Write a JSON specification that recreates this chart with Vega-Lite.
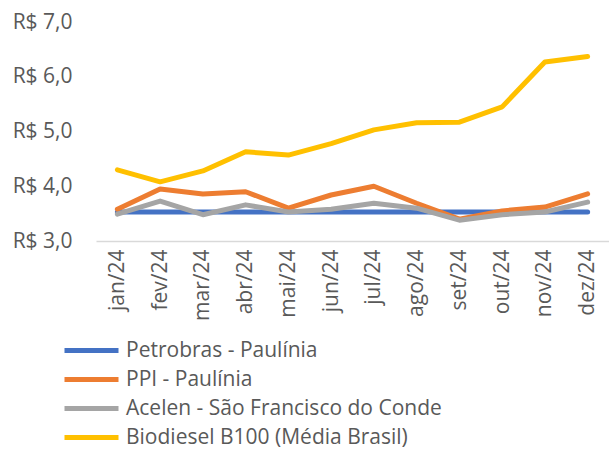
{
  "$schema": "https://vega.github.io/schema/vega-lite/v6.json",
  "autosize": {"type": "none"},
  "padding": {"left": 96, "top": 22, "right": 0, "bottom": 209},
  "width": 513,
  "height": 219,
  "background": "white",
  "config": {
    "view": {"stroke": null},
    "font": "Open Sans"
  },
  "data": {
    "values": [
      {"mes": "jan/24", "serie": "Petrobras - Paulínia", "valor": 3.53},
      {"mes": "fev/24", "serie": "Petrobras - Paulínia", "valor": 3.53},
      {"mes": "mar/24", "serie": "Petrobras - Paulínia", "valor": 3.53},
      {"mes": "abr/24", "serie": "Petrobras - Paulínia", "valor": 3.53},
      {"mes": "mai/24", "serie": "Petrobras - Paulínia", "valor": 3.53},
      {"mes": "jun/24", "serie": "Petrobras - Paulínia", "valor": 3.53},
      {"mes": "jul/24", "serie": "Petrobras - Paulínia", "valor": 3.53},
      {"mes": "ago/24", "serie": "Petrobras - Paulínia", "valor": 3.53},
      {"mes": "set/24", "serie": "Petrobras - Paulínia", "valor": 3.53},
      {"mes": "out/24", "serie": "Petrobras - Paulínia", "valor": 3.53},
      {"mes": "nov/24", "serie": "Petrobras - Paulínia", "valor": 3.53},
      {"mes": "dez/24", "serie": "Petrobras - Paulínia", "valor": 3.53},
      {"mes": "jan/24", "serie": "PPI - Paulínia", "valor": 3.58},
      {"mes": "fev/24", "serie": "PPI - Paulínia", "valor": 3.95},
      {"mes": "mar/24", "serie": "PPI - Paulínia", "valor": 3.86},
      {"mes": "abr/24", "serie": "PPI - Paulínia", "valor": 3.90},
      {"mes": "mai/24", "serie": "PPI - Paulínia", "valor": 3.60},
      {"mes": "jun/24", "serie": "PPI - Paulínia", "valor": 3.84},
      {"mes": "jul/24", "serie": "PPI - Paulínia", "valor": 4.00},
      {"mes": "ago/24", "serie": "PPI - Paulínia", "valor": 3.69},
      {"mes": "set/24", "serie": "PPI - Paulínia", "valor": 3.40},
      {"mes": "out/24", "serie": "PPI - Paulínia", "valor": 3.55},
      {"mes": "nov/24", "serie": "PPI - Paulínia", "valor": 3.62},
      {"mes": "dez/24", "serie": "PPI - Paulínia", "valor": 3.86},
      {"mes": "jan/24", "serie": "Acelen - São Francisco do Conde", "valor": 3.49},
      {"mes": "fev/24", "serie": "Acelen - São Francisco do Conde", "valor": 3.73},
      {"mes": "mar/24", "serie": "Acelen - São Francisco do Conde", "valor": 3.48},
      {"mes": "abr/24", "serie": "Acelen - São Francisco do Conde", "valor": 3.66},
      {"mes": "mai/24", "serie": "Acelen - São Francisco do Conde", "valor": 3.53},
      {"mes": "jun/24", "serie": "Acelen - São Francisco do Conde", "valor": 3.58},
      {"mes": "jul/24", "serie": "Acelen - São Francisco do Conde", "valor": 3.69},
      {"mes": "ago/24", "serie": "Acelen - São Francisco do Conde", "valor": 3.60},
      {"mes": "set/24", "serie": "Acelen - São Francisco do Conde", "valor": 3.38},
      {"mes": "out/24", "serie": "Acelen - São Francisco do Conde", "valor": 3.48},
      {"mes": "nov/24", "serie": "Acelen - São Francisco do Conde", "valor": 3.53},
      {"mes": "dez/24", "serie": "Acelen - São Francisco do Conde", "valor": 3.71},
      {"mes": "jan/24", "serie": "Biodiesel B100 (Média Brasil)", "valor": 4.30},
      {"mes": "fev/24", "serie": "Biodiesel B100 (Média Brasil)", "valor": 4.08},
      {"mes": "mar/24", "serie": "Biodiesel B100 (Média Brasil)", "valor": 4.28},
      {"mes": "abr/24", "serie": "Biodiesel B100 (Média Brasil)", "valor": 4.63},
      {"mes": "mai/24", "serie": "Biodiesel B100 (Média Brasil)", "valor": 4.57},
      {"mes": "jun/24", "serie": "Biodiesel B100 (Média Brasil)", "valor": 4.78},
      {"mes": "jul/24", "serie": "Biodiesel B100 (Média Brasil)", "valor": 5.03},
      {"mes": "ago/24", "serie": "Biodiesel B100 (Média Brasil)", "valor": 5.16},
      {"mes": "set/24", "serie": "Biodiesel B100 (Média Brasil)", "valor": 5.17},
      {"mes": "out/24", "serie": "Biodiesel B100 (Média Brasil)", "valor": 5.45},
      {"mes": "nov/24", "serie": "Biodiesel B100 (Média Brasil)", "valor": 6.27},
      {"mes": "dez/24", "serie": "Biodiesel B100 (Média Brasil)", "valor": 6.37}
    ]
  },
  "mark": {"type": "line", "strokeWidth": 5, "strokeCap": "round", "strokeJoin": "round"},
  "encoding": {
    "x": {
      "field": "mes",
      "type": "ordinal",
      "sort": null,
      "scale": {"type": "point", "padding": 0.5},
      "axis": {
        "title": null,
        "labelAngle": -90,
        "labelFontSize": 21,
        "labelColor": "#595959",
        "labelPadding": 8,
        "ticks": false,
        "domainColor": "#D9D9D9",
        "domainWidth": 1.5,
        "grid": false
      }
    },
    "y": {
      "field": "valor",
      "type": "quantitative",
      "scale": {"domain": [3, 7], "nice": false, "zero": false},
      "axis": {
        "title": null,
        "values": [3, 4, 5, 6, 7],
        "labelExpr": "'R$ ' + replace(format(datum.value, '.1f'), '.', ',')",
        "labelFontSize": 21,
        "labelColor": "#595959",
        "labelPadding": 24,
        "ticks": false,
        "domain": false,
        "grid": false
      }
    },
    "color": {
      "field": "serie",
      "type": "nominal",
      "sort": ["Petrobras - Paulínia", "PPI - Paulínia", "Acelen - São Francisco do Conde", "Biodiesel B100 (Média Brasil)"],
      "scale": {
        "domain": ["Petrobras - Paulínia", "PPI - Paulínia", "Acelen - São Francisco do Conde", "Biodiesel B100 (Média Brasil)"],
        "range": ["#4472C4", "#ED7D31", "#A5A5A5", "#FFC000"]
      },
      "legend": {
        "title": null,
        "orient": "none",
        "legendX": -43,
        "legendY": 317,
        "direction": "vertical",
        "symbolType": "M0,0H6",
        "symbolSize": 324,
        "symbolStrokeWidth": 5,
        "symbolStrokeCap": "round",
        "labelFontSize": 21,
        "labelColor": "#595959",
        "labelOffset": 50,
        "rowPadding": 7,
        "labelLimit": 500
      }
    },
    "order": {"field": "serie"}
  }
}
